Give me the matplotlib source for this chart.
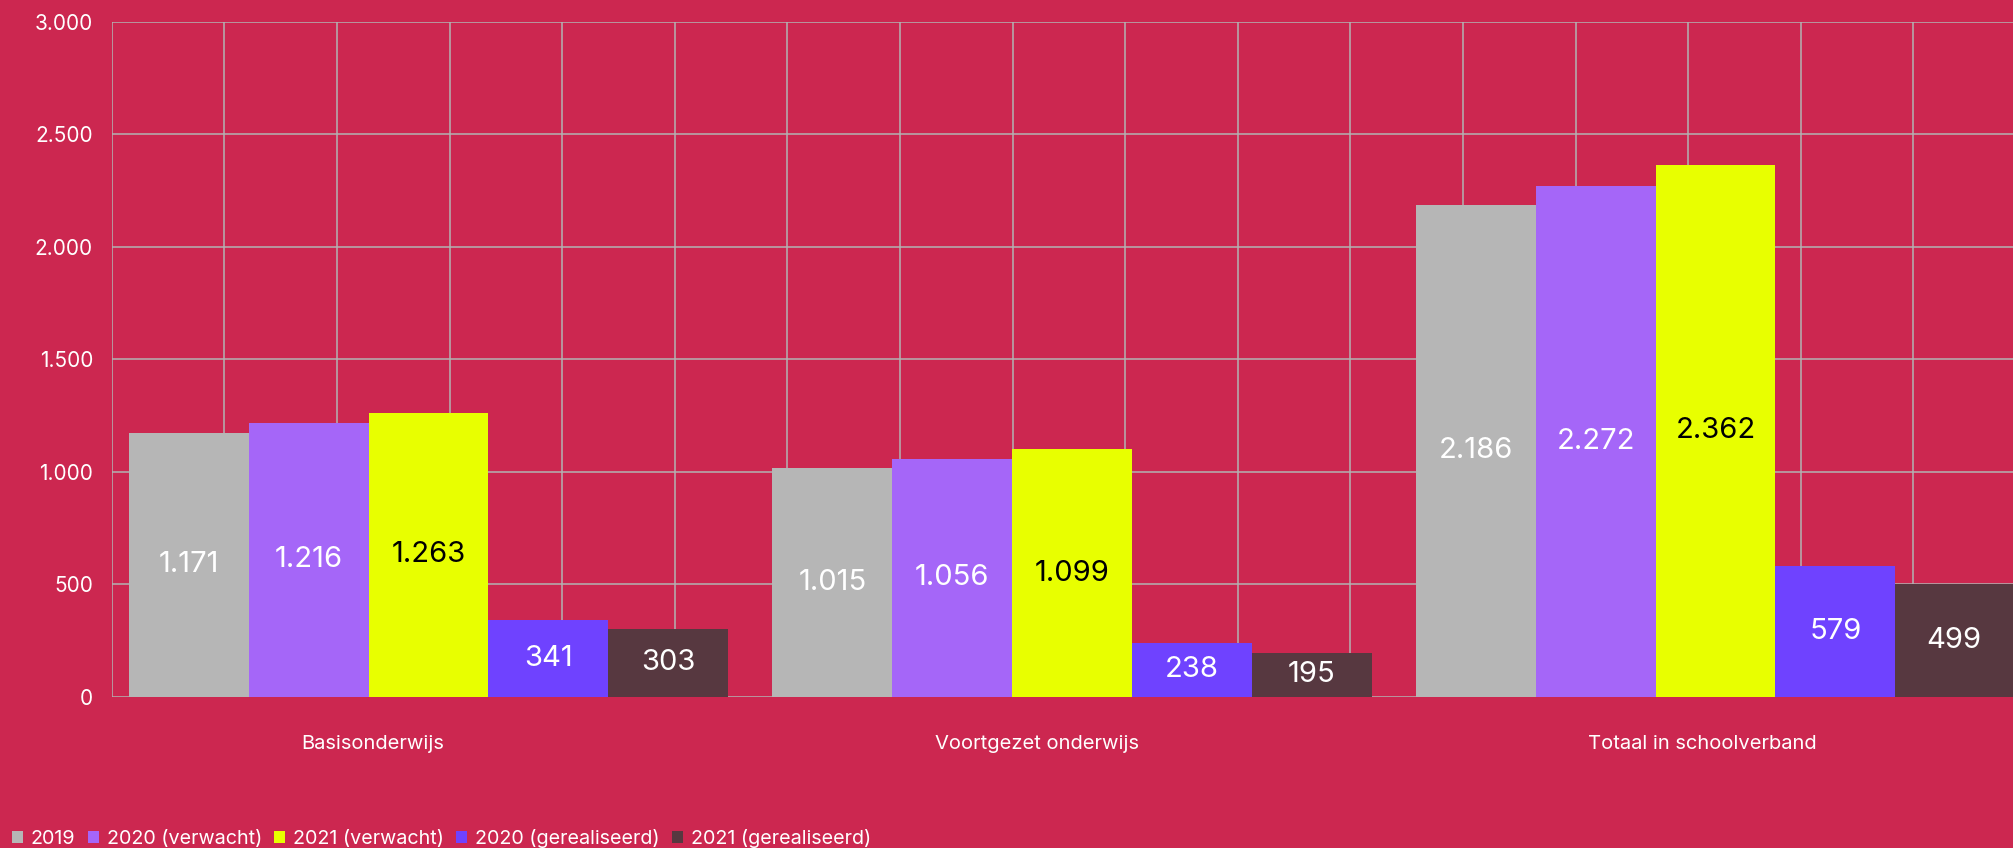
import matplotlib.pyplot as plt
import numpy as np

plt.rcParams['font.family'] = ['Inter', 'DejaVu Sans']

# data
categories = ['Basisonderwijs', 'Voortgezet onderwijs', 'Totaal in schoolverband']
series = ['2019', '2020 (verwacht)', '2021 (verwacht)', '2020 (gerealiseerd)', '2021 (gerealiseerd)']
v2019 = [1171, 1015, 2186]
v2020_verwacht = [1216, 1056, 2272]
v2021_verwacht = [1263, 1099, 2362]
v2020_gerealiseerd = [341, 238, 579]
v2021_gerealiseerd = [303, 195, 499]
yticks = [0, 500, 1000, 1500, 2000, 2500, 3000]

values = [v2019, v2020_verwacht, v2021_verwacht, v2020_gerealiseerd, v2021_gerealiseerd]
colors = ['#B6B6B6', '#A566F8', '#E8FF00', '#6F42FF', '#573840']
label_colors = ['white', 'white', 'black', 'white', 'white']
bg = '#CC2750'
gridc = '#B3B3B3'


def nl(v):
    return f"{v:,}".replace(',', '.')


W, H = 2013, 848
fig = plt.figure(figsize=(W / 100, H / 100), dpi=100, facecolor=bg)
left_px, top_px, zero_px = 111.7, 21.7, 696.7
ax = fig.add_axes([left_px / W, (H - zero_px) / H, (W - left_px) / W, (zero_px - top_px) / H])
ax.set_facecolor(bg)

x = np.arange(len(categories))
bw = 0.1862
xmin = -0.4923
ax.set_xlim(xmin, xmin + (W - left_px) / 643.5)
ax.set_ylim(0, 3000)

handles = []
for j, (vals, c, lc, name) in enumerate(zip(values, colors, label_colors, series)):
    bars = ax.bar(x + (j - 2) * bw, vals, bw, color=c, label=name, zorder=2)
    ax.bar_label(bars, labels=[nl(v) for v in vals], label_type='center',
                 color=lc, fontsize=21)
    handles.append(bars)

# grid
ax.set_axisbelow(True)
ax.set_yticks(yticks)
ax.set_yticklabels([nl(v) for v in yticks], color='white', fontsize=15)
ax.set_xticks([])
ax.set_xticks(xmin + 0.175 * np.arange(17), minor=True)
ax.tick_params(axis='both', which='both', length=0)
ax.tick_params(axis='y', pad=13.5)
ax.grid(axis='y', which='major', color=gridc, lw=1.1)
ax.grid(axis='x', which='minor', color=gridc, lw=1.1)
for s in ax.spines.values():
    s.set_visible(False)

# category labels
label_x = [-0.087, 0.9456, 1.979]
for lx, cat in zip(label_x, categories):
    ax.text(lx, -0.0701, cat, transform=ax.get_xaxis_transform(),
            ha='center', va='center', color='white', fontsize=14.5)

fig.legend(handles=handles, loc='lower left', bbox_to_anchor=(12 / W, 0.0),
           ncol=5, frameon=False, fontsize=14.2, labelcolor='white',
           handlelength=0.56, handleheight=0.56, handletextpad=0.4,
           columnspacing=0.62, borderpad=0, borderaxespad=0)

fig.savefig('out.png', dpi=100, facecolor=bg)
